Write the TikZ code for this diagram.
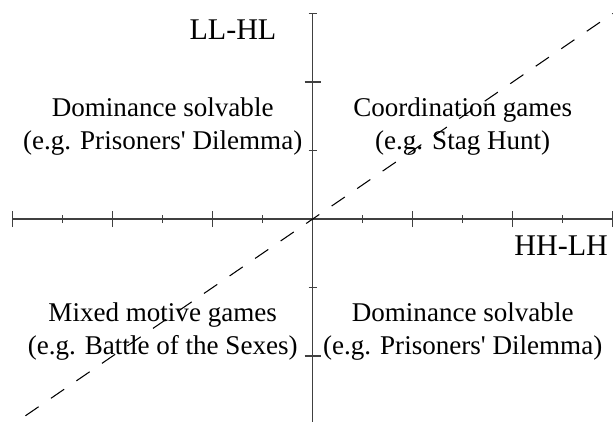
\documentclass[tikz,border=0pt]{standalone}
\usepackage{fontspec}
\newfontfamily\gamefont{Liberation Serif}
\colorlet{axisgray}{black!75}
\tikzset{
  axisline/.style={draw=axisgray, line width=0.6pt},
  bigtick/.style={draw=axisgray, line width=0.6pt},
  smalltick/.style={draw=axisgray, line width=0.6pt},
  diag/.style={draw=black, line width=0.6pt, dash pattern=on 9.1pt off 8.5pt, dash phase=4.55pt},
  region/.style={font=\gamefont\fontsize{15.4}{18.8}\selectfont, align=center,
                 anchor=base, inner sep=0pt, yshift=-18.8pt},
  axislabel/.style={font=\gamefont\fontsize{17.1}{20}\selectfont, inner sep=0pt},
}
\begin{document}
\begin{tikzpicture}[x=1cm, y=1.37cm]
\useasboundingbox (-6.254cm,-4.04cm) rectangle (6.006cm,4.38cm);

% Axes
\coordinate (o) at (0,0);
\coordinate (xmin) at (-6,0);
\coordinate (xmax) at (6,0);
\coordinate (ymin) at (0,-3.1);
\coordinate (ymax) at (0,3);
\draw[axisline] (xmin) -- (xmax);
\draw[axisline] (ymin) -- (ymax);

% Ticks
\foreach \i in {-6,-4,-2,2,4,6}
  \draw[bigtick] (\i,0) ++(0,-0.16cm) -- ++(0,0.32cm);
\foreach \i in {-5,-3,-1,1,3,5}
  \draw[smalltick] (\i,0) ++(0,-0.08cm) -- ++(0,0.16cm);
\foreach \j in {-2,2}
  \draw[bigtick] (0,\j) ++(-0.16cm,0) -- ++(0.32cm,0);
\foreach \j in {-3,-1,1,3}
  \draw[smalltick] (0,\j) ++(-0.08cm,0) -- ++(0.16cm,0);

% Diagonal
\coordinate (dtop) at (6,3);
\coordinate (dbot) at (-6,-3);
\draw[diag] (o) -- (dtop);
\draw[diag] (o) -- (dbot);

% Axis labels
\node[axislabel, anchor=base east] (ylab) at (-0.72cm, 3.6cm) {LL-HL};
\node[axislabel, anchor=base east] (xlab) at (5.91cm, -0.72cm) {HH-LH};

% Quadrants
\node[region] (dstop) at (-3,1.5) {Dominance solvable\\(e.g. Prisoners' Dilemma)};
\node[region] (coord) at (3,1.5) {Coordination games\\(e.g. Stag Hunt)};
\node[region] (mixed) at (-3,-1.5) {Mixed motive games\\(e.g. Battle of the Sexes)};
\node[region] (dsbot) at (3,-1.5) {Dominance solvable\\(e.g. Prisoners' Dilemma)};
\end{tikzpicture}
\end{document}
